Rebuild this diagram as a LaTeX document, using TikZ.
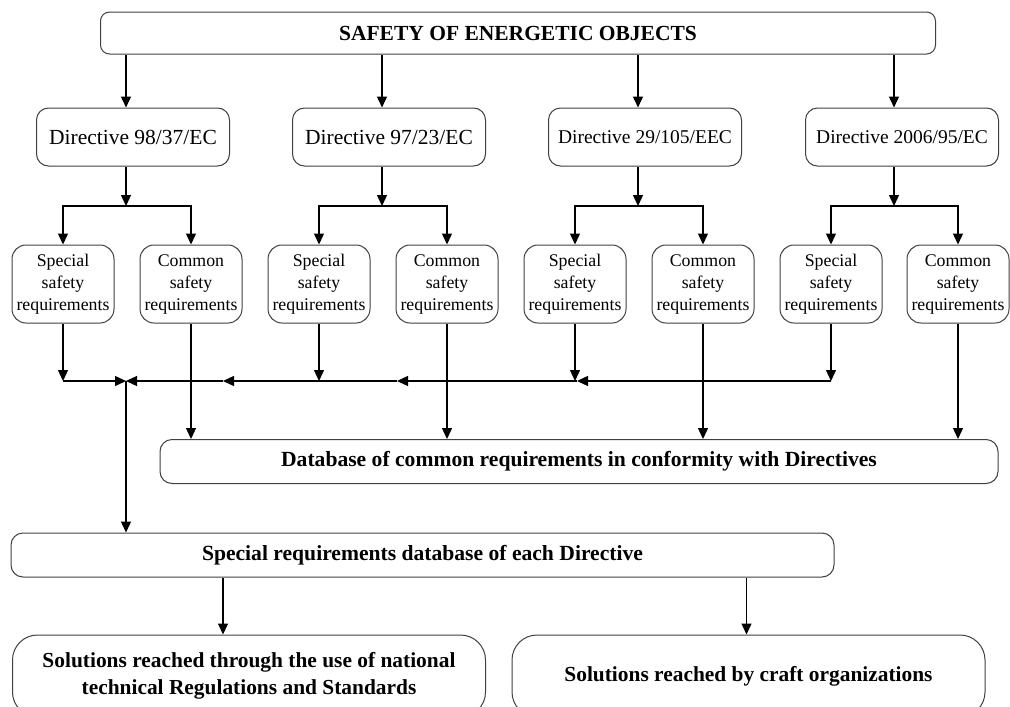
\documentclass[tikz,border=0pt]{standalone}
\usepackage{fontspec}
\setmainfont{Liberation Serif}
\usepackage{tikz}
\usetikzlibrary{arrows.meta,positioning}
\tikzset{
  blk/.style   = {draw=black!75, rounded corners=12pt, align=center, inner sep=0pt,
                  line width=1pt, fill=white},
  title/.style = {blk, rounded corners=9pt, minimum width=835pt, minimum height=42pt,
                  font=\fontsize{21.5}{26}\selectfont\bfseries},
  dirbox/.style= {blk, minimum width=193pt, minimum height=58pt,
                  font=\fontsize{21.5}{26}\selectfont},
  req/.style   = {blk, rounded corners=14pt, minimum width=102pt, minimum height=78pt,
                  font=\fontsize{17.8}{22}\selectfont},
  dbase/.style = {blk, minimum height=44pt, font=\fontsize{21.6}{26}\selectfont\bfseries},
  sol/.style   = {blk, rounded corners=25pt, minimum width=473pt, minimum height=82pt,
                  font=\fontsize{21.4}{27}\selectfont\bfseries},
  ar/.style    = {-{Triangle[length=11pt, width=10pt]}, line width=1.3pt}
}

\begin{document}
\begin{tikzpicture}[x=1pt, y=-1pt]
\useasboundingbox (0,0) rectangle (1010,707);
\clip (0,0) rectangle (1010,707);

\node[title] (top) at (518,33) {SAFETY OF ENERGETIC OBJECTS};

\node[dirbox] (d1) at (133,137) {Directive 98/37/EC};
\node[dirbox] (d2) at (389,137) {Directive 97/23/EC};
\node[dirbox, font=\fontsize{19.5}{24}\selectfont] (d3) at (645,137) {Directive 29/105/EEC};
\node[dirbox, font=\fontsize{19.5}{24}\selectfont] (d4) at (902,137) {Directive 2006/95/EC};

\node[req] (s1) at (63,284)  {Special\\safety\\requirements};
\node[req] (c1) at (191,284) {Common\\safety\\requirements};
\node[req] (s2) at (319,284) {Special\\safety\\requirements};
\node[req] (c2) at (447,284) {Common\\safety\\requirements};
\node[req] (s3) at (575,284) {Special\\safety\\requirements};
\node[req] (c3) at (703,284) {Common\\safety\\requirements};
\node[req] (s4) at (831,284) {Special\\safety\\requirements};
\node[req] (c4) at (958,284) {Common\\safety\\requirements};

\node[dbase, minimum width=838pt] (common) at (579,461.5)
  {Database of common requirements in conformity with Directives};
\node[dbase, minimum width=823pt] (special) at (422.5,555)
  {Special requirements database of each Directive};

\node[sol] (national) at (249,676)
  {Solutions reached through the use of national\\technical Regulations and Standards};
\node[sol] (craft) at (748.5,676) {Solutions reached by craft organizations};

% directive branches
\coordinate (j1) at (126,206);
\coordinate (j2) at (382,206);
\coordinate (j3) at (638,206);
\coordinate (j4) at (894,206);
\draw[ar] (top.south -| j1) -- (d1.north -| j1);
\draw[ar] (top.south -| j2) -- (d2.north -| j2);
\draw[ar] (top.south -| j3) -- (d3.north -| j3);
\draw[ar] (top.south -| j4) -- (d4.north -| j4);
\draw[ar] (d1.south -| j1) -- (j1);
\draw[ar] (d2.south -| j2) -- (j2);
\draw[ar] (d3.south -| j3) -- (j3);
\draw[ar] (d4.south -| j4) -- (j4);
\draw[ar] (j1) -| (s1.north);
\draw[ar] (j1) -| (c1.north);
\draw[ar] (j2) -| (s2.north);
\draw[ar] (j2) -| (c2.north);
\draw[ar] (j3) -| (s3.north);
\draw[ar] (j3) -| (c3.north);
\draw[ar] (j4) -| (s4.north);
\draw[ar] (j4) -| (c4.north);

% collecting line of special requirements
\coordinate (bus) at (126,381);
\coordinate (tip1) at (223,381);
\coordinate (tip2) at (397,381);
\coordinate (tip3) at (577,381);
\draw[ar] (s1.south) -- (s1.south |- bus);
\draw[ar] (s2.south) -- (s2.south |- bus);
\draw[ar] (s3.south) -- (s3.south |- bus);
\draw[ar] (s4.south) -- (s4.south |- bus);
\draw[ar] (s1.south |- bus) -- (bus);
\draw[ar] (s4.south |- bus) -- (tip3);
\draw[ar] (tip3) -- (tip2);
\draw[ar] (tip2) -- (tip1);
\draw[ar] (tip1) -- (bus);
\draw[ar] (bus) -- (bus |- special.north);

% common requirements
\draw[ar] (c1.south) -- (c1.south |- common.north);
\draw[ar] (c2.south) -- (c2.south |- common.north);
\draw[ar] (c3.south) -- (c3.south |- common.north);
\draw[ar] (c4.south) -- (c4.south |- common.north);

% solutions
\draw[ar] ([xshift=-26pt]national.north |- special.south) -- ([xshift=-26pt]national.north);
\draw[ar] ([xshift=-2pt]craft.north |- special.south) -- ([xshift=-2pt]craft.north);
\end{tikzpicture}
\end{document}
